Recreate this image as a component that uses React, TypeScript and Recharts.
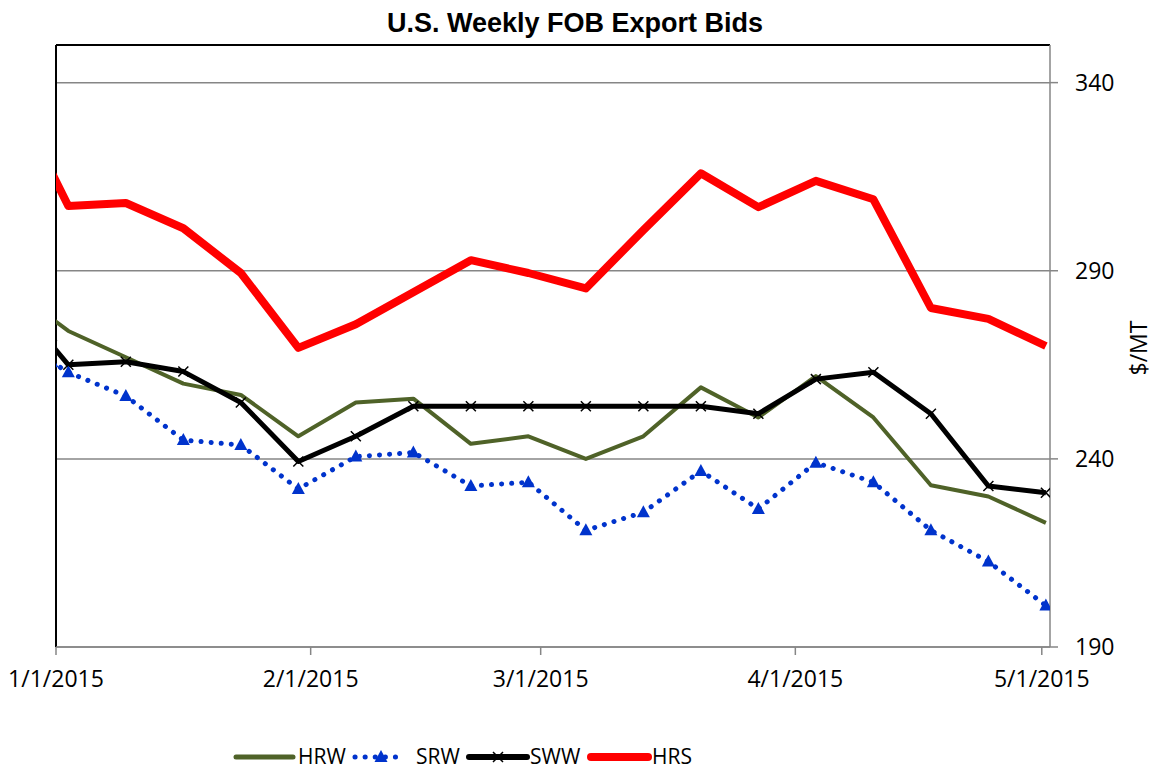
import React from "react";
import { LineChart, Line, XAxis, YAxis, CartesianGrid, ReferenceLine, Legend } from "recharts";

// weekly bids, $/MT (first row sits just left of the axis start and gets clipped)
const dates = [
    "12/31/2014", "1/2/2015", "1/9/2015", "1/16/2015", "1/23/2015", "1/30/2015",
    "2/6/2015", "2/13/2015", "2/20/2015", "2/27/2015", "3/6/2015", "3/13/2015",
    "3/20/2015", "3/27/2015", "4/3/2015", "4/10/2015", "4/17/2015", "4/24/2015", "5/1/2015",
];
const hrw = [277.3, 274, 267, 260, 257, 246, 255, 256, 244, 246, 240, 246, 259, 251, 262, 251, 233, 230, 223];
const srw = [265.7, 263, 256.7, 245, 243.7, 232, 240.6, 241.7, 232.8, 233.8, 221, 225.8, 236.8, 226.7, 239, 233.8, 221, 212.7, 201];
const sww = [270.2, 265, 265.8, 263.2, 255, 239.3, 246, 254, 254, 254, 254, 254, 254, 252, 261.2, 263, 252, 232.8, 231];
const hrs = [316, 307.2, 308, 301.3, 289.4, 269.5, 275.8, 284.3, 292.8, 289.4, 285.3, 300.8, 315.9, 306.9, 313.9, 309, 280.1, 277.2, 270];

const xTickLabels = ["1/1/2015", "2/1/2015", "3/1/2015", "4/1/2015", "5/1/2015"];
const xStart = "1/1/2015";
const xEnd = "5/2/2015";
const yTicks = [190, 240, 290, 340];
const yMin = 190;
const yMax = 350;

const GREEN = "#4F6228";
const BLUE = "#0033CC";
const RED = "#FF0000";
const GRAY = "#868686";
const FONT = "'Open Sans', sans-serif";

const dayOf = (s: string) => {
    const [m, d, y] = s.split("/").map(Number);
    return Math.round((Date.UTC(y, m - 1, d) - Date.UTC(2015, 0, 1)) / 86400000);
};

// excel date axis puts each point in the middle of its day
const data = dates.map((d, i) => ({
    t: dayOf(d) + 0.5,
    HRW: hrw[i],
    SRW: srw[i],
    SWW: sww[i],
    HRS: hrs[i],
}));

const xTicks = xTickLabels.map(dayOf);

const Triangle = (props: any) => {
    const { cx, cy, index } = props;
    if (cx == null || cy == null) return <g key={index} />;
    return <path key={index} d={`M${cx},${cy - 7}L${cx + 6.5},${cy + 5}L${cx - 6.5},${cy + 5}Z`} fill={BLUE} />;
};

const Cross = (props: any) => {
    const { cx, cy, index } = props;
    if (cx == null || cy == null) return <g key={index} />;
    return (
        <path
            key={index}
            d={`M${cx - 5},${cy - 5}L${cx + 5},${cy + 5}M${cx - 5},${cy + 5}L${cx + 5},${cy - 5}`}
            stroke="#000"
            strokeWidth={1.5}
            fill="none"
        />
    );
};

const LY = 20;

const legendText = (x: number, label: string) => (
    <text x={x} y={LY} dy="0.35em" fontSize={21} fontFamily={FONT} fill="#000">
        {label}
    </text>
);

const renderLegend = () => (
    <svg width={1154} height={40} style={{ overflow: "visible" }}>
        <line x1={236} x2={293} y1={LY} y2={LY} stroke={GREEN} strokeWidth={5} strokeLinecap="round" />
        {legendText(298, "HRW")}
        <line x1={355} x2={405} y1={LY} y2={LY} stroke={BLUE} strokeWidth={5} strokeLinecap="round" strokeDasharray="0.1 10" />
        <Triangle cx={381} cy={LY} />
        {legendText(416, "SRW")}
        <line x1={469} x2={527} y1={LY} y2={LY} stroke="#000" strokeWidth={6} strokeLinecap="round" />
        <Cross cx={498} cy={LY} />
        {legendText(530, "SWW")}
        <line x1={591} x2={648} y1={LY} y2={LY} stroke={RED} strokeWidth={8} strokeLinecap="round" />
        {legendText(652, "HRS")}
    </svg>
);

const yLabel = (props: any) => {
    const { x, y, width, height } = props.viewBox;
    return (
        <text
            transform={`translate(${x + width - 11},${y + height / 2 + 2}) rotate(-90)`}
            textAnchor="middle"
            dy="0.35em"
            fontSize={23}
            fontFamily={FONT}
            fill="#000"
        >
            $/MT
        </text>
    );
};

export default function App() {
    return (
        <div style={{ position: "absolute", left: 0, top: 0, width: 1154, height: 768, background: "#fff" }}>
            <svg width={1154} height={45} style={{ position: "absolute", left: 0, top: 0 }}>
                <text x={575} y={32} textAnchor="middle" fontSize={27} fontWeight="bold" fontFamily="'Liberation Sans', Arial, sans-serif" fill="#000">
                    U.S. Weekly FOB Export Bids
                </text>
            </svg>
            <LineChart width={1154} height={768} data={data} margin={{ top: 45, right: 4, bottom: 81, left: 56 }}>
                <CartesianGrid vertical={false} stroke={GRAY} strokeWidth={1.5} />
                <XAxis
                    type="number"
                    dataKey="t"
                    domain={[dayOf(xStart), dayOf(xEnd)]}
                    ticks={xTicks}
                    interval={0}
                    allowDataOverflow
                    tickFormatter={(v: number) => xTickLabels[xTicks.indexOf(v)] ?? ""}
                    stroke={GRAY}
                    strokeWidth={1.5}
                    tickSize={8}
                    tickMargin={16}
                    height={40}
                    tick={{ fill: "#000", fontSize: 23, fontFamily: FONT }}
                />
                <YAxis
                    orientation="right"
                    domain={[yMin, yMax]}
                    ticks={yTicks}
                    interval={0}
                    width={100}
                    stroke={GRAY}
                    strokeWidth={1.5}
                    tickSize={8}
                    tickMargin={17}
                    tick={{ fill: "#000", fontSize: 23, fontFamily: FONT }}
                    label={{ content: yLabel }}
                />
                <ReferenceLine y={yMax} stroke="#000" strokeWidth={2} />
                <ReferenceLine x={dayOf(xStart)} stroke="#000" strokeWidth={2} />
                <Line dataKey="HRW" stroke={GREEN} strokeWidth={4} dot={false} activeDot={false} strokeLinejoin="round" isAnimationActive={false} />
                <Line
                    dataKey="SRW"
                    stroke={BLUE}
                    strokeWidth={5}
                    strokeDasharray="0.1 10"
                    strokeLinecap="round"
                    dot={Triangle}
                    activeDot={false}
                    isAnimationActive={false}
                />
                <Line dataKey="SWW" stroke="#000" strokeWidth={5} dot={Cross} activeDot={false} strokeLinejoin="round" isAnimationActive={false} />
                <Line dataKey="HRS" stroke={RED} strokeWidth={8} dot={false} activeDot={false} strokeLinejoin="round" isAnimationActive={false} />
                <Legend
                    verticalAlign="middle"
                    layout="horizontal"
                    wrapperStyle={{ top: 737, left: 0, width: 1154, height: 40 }}
                    content={renderLegend}
                />
            </LineChart>
        </div>
    );
}
